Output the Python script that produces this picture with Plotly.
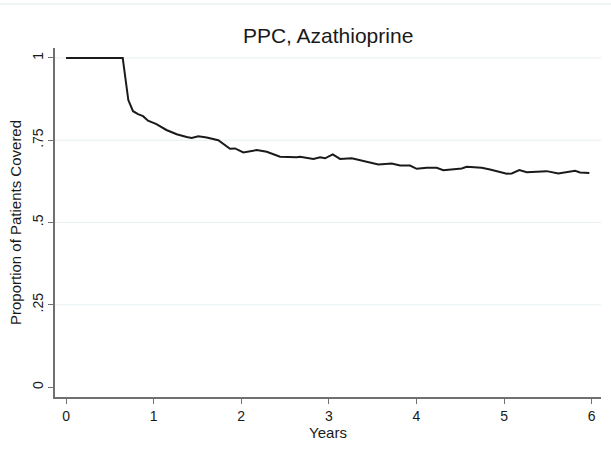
import plotly.graph_objects as go

years = [0, 0.647, 0.711, 0.765, 0.822, 0.879, 0.936, 1.032, 1.146, 1.263, 1.377, 1.434,
         1.510, 1.606, 1.738, 1.815, 1.872, 1.929, 2.024, 2.177, 2.291, 2.443, 2.634,
         2.671, 2.824, 2.900, 2.957, 3.045, 3.128, 3.262, 3.376, 3.451, 3.565, 3.718,
         3.813, 3.927, 4.003, 4.117, 4.231, 4.307, 4.421, 4.517, 4.574, 4.745, 4.840,
         4.954, 5.031, 5.088, 5.175, 5.259, 5.373, 5.487, 5.620, 5.716, 5.811, 5.868, 5.974]
covered = [1.0, 1.0, 0.872, 0.838, 0.829, 0.823, 0.809, 0.799, 0.781, 0.768, 0.760, 0.757,
           0.762, 0.758, 0.750, 0.735, 0.724, 0.725, 0.713, 0.720, 0.715, 0.700, 0.698,
           0.700, 0.693, 0.698, 0.695, 0.707, 0.693, 0.695, 0.687, 0.684, 0.676, 0.679,
           0.673, 0.673, 0.663, 0.666, 0.666, 0.659, 0.662, 0.664, 0.669, 0.666, 0.661,
           0.653, 0.648, 0.649, 0.659, 0.653, 0.654, 0.656, 0.649, 0.653, 0.657, 0.652, 0.650]

y_tickvals = [0, 0.25, 0.5, 0.75, 1]
y_ticktext = ["0", ".25", ".5", ".75", "1"]
x_tickvals = [0, 1, 2, 3, 4, 5, 6]
grid_vals = [0.25, 0.5, 0.75, 1]

FONT = "Liberation Sans, Arial, sans-serif"

fig = go.Figure()
fig.add_trace(go.Scatter(x=years, y=covered, mode="lines",
                         line=dict(color="#1a1a1a", width=2), showlegend=False))

shapes = []
for g in grid_vals:
    shapes.append(dict(type="line", xref="paper", yref="y", x0=0, x1=1, y0=g, y1=g,
                       line=dict(color="#e6eff1", width=1), layer="below"))
# faint graph-region border line at the top
shapes.append(dict(type="line", xref="paper", yref="paper", x0=-0.11, x1=1.03,
                   y0=1.126, y1=1.126, line=dict(color="#e3ecee", width=1)))

fig.update_layout(
    width=611, height=459,
    margin=dict(l=55, r=10, t=48, b=62),
    paper_bgcolor="white", plot_bgcolor="white",
    font=dict(family=FONT, color="#1a1a1a", size=14),
    title=dict(text="PPC, Azathioprine", x=0.537, xanchor="center",
               y=1 - 36 / 459, yanchor="middle", yref="container",
               font=dict(size=21, family=FONT, color="#1a1a1a")),
    shapes=shapes,
    xaxis=dict(range=[-0.126, 6.107], tickvals=x_tickvals, showgrid=False, zeroline=False,
               showline=True, linecolor="#707070", linewidth=1.5,
               ticks="outside", ticklen=5, tickcolor="#707070", tickwidth=1,
               tickfont=dict(size=14),
               title=dict(text="Years", font=dict(size=15), standoff=0)),
    yaxis=dict(range=[-0.03, 1.03], tickvals=y_tickvals, ticktext=y_ticktext,
               tickangle=-90, showgrid=False, zeroline=False,
               showline=True, linecolor="#707070", linewidth=1.5,
               ticks="outside", ticklen=5, tickcolor="#707070", tickwidth=1,
               tickfont=dict(size=14),
               title=dict(text="Proportion of Patients Covered", font=dict(size=15), standoff=4)),
)

fig.write_html("out.html")
